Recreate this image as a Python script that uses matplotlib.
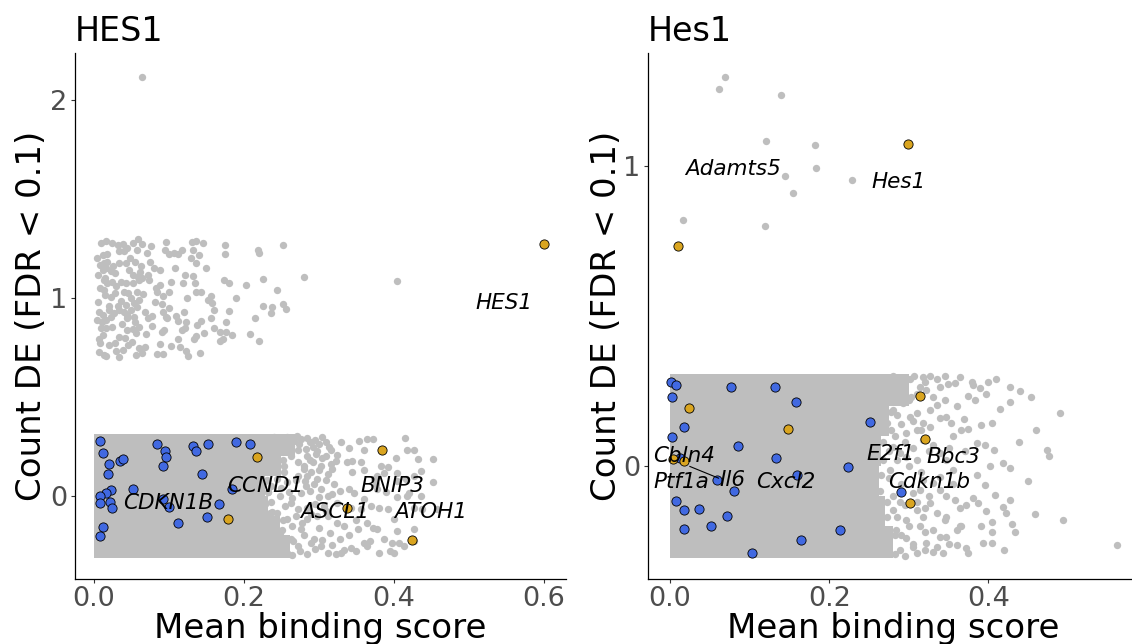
import matplotlib.pyplot as plt

# ---- colours ----
GRAY = '#BEBEBE'
BLUE = '#4169E1'
ORANGE = '#DAA520'

# ================= HES1 (left panel) =================
# dense block of genes with count 0 (jitter band): how far each slice of the band is solid
L_BAND_LO = [0.20, 0.10, 0.00, -0.10, -0.20, -0.315]
L_BAND_HI = [0.315, 0.20, 0.10, 0.00, -0.10, -0.20]
L_BAND_XMAX = [0.268, 0.25, 0.228, 0.232, 0.248, 0.262]

# individual grey genes (mean binding score, jittered DE count)
L_GRAY_X = [
    0.017, 0.024, 0.032, 0.039, 0.052, 0.059, 0.064, 0.097, 0.131, 0.136, 0.146, 0.175, 0.219, 0.253,
    0.012, 0.018, 0.034, 0.040, 0.058, 0.071, 0.095, 0.100, 0.107, 0.113, 0.118, 0.132, 0.140, 0.175, 0.220,
    0.009, 0.014, 0.018, 0.034, 0.043, 0.055, 0.063, 0.075, 0.137,
    0.006, 0.012, 0.017, 0.023, 0.028, 0.047, 0.052, 0.059, 0.065, 0.072, 0.088, 0.122, 0.133, 0.174, 0.180,
    0.226, 0.280, 0.404,
    0.014, 0.018, 0.025, 0.037, 0.043, 0.052, 0.061, 0.074, 0.083, 0.089, 0.103, 0.119, 0.135, 0.203, 0.245,
    0.014, 0.015, 0.023, 0.028, 0.040, 0.046, 0.058, 0.060, 0.036, 0.043, 0.054, 0.085, 0.100, 0.092, 0.137,
    0.143, 0.156, 0.152,
    0.007, 0.012, 0.021, 0.027, 0.034, 0.040, 0.045, 0.050, 0.058, 0.091, 0.092, 0.096, 0.120, 0.110, 0.158,
    0.160, 0.181, 0.226, 0.238, 0.252, 0.256, 0.237,
    0.005, 0.011, 0.017, 0.023, 0.045, 0.054, 0.072, 0.078, 0.098, 0.113, 0.123, 0.138, 0.143, 0.156, 0.176,
    0.215,
    0.016, 0.012, 0.007, 0.025, 0.034, 0.045, 0.052, 0.056, 0.060, 0.094, 0.091, 0.112, 0.118, 0.122, 0.136,
    0.147, 0.134, 0.168, 0.176, 0.184, 0.208, 0.172, 0.169, 0.220,
    0.009, 0.007, 0.014, 0.017, 0.028, 0.039, 0.034, 0.046, 0.051, 0.056, 0.060, 0.069, 0.085, 0.088, 0.092,
    0.103, 0.123, 0.126, 0.142,
    0.005, 0.008, 0.006, 0.010, 0.020, 0.026, 0.030, 0.032, 0.038, 0.042, 0.048, 0.050, 0.055, 0.062, 0.066,
    0.068, 0.070, 0.076, 0.080, 0.082, 0.078, 0.010, 0.020, 0.015, 0.030, 0.045, 0.065, 0.100, 0.108, 0.125,
    0.115, 0.130, 0.150, 0.160, 0.190,
    0.065,
    # count 0 fringe
    0.240, 0.249, 0.258, 0.267, 0.276, 0.263, 0.274, 0.283, 0.289, 0.314, 0.317, 0.325, 0.354, 0.365, 0.372,
    0.361, 0.418, 0.427, 0.432, 0.453, 0.403,
    0.285, 0.296, 0.305, 0.292, 0.303, 0.318, 0.323, 0.338, 0.345, 0.356, 0.383, 0.392, 0.387, 0.378, 0.374,
    0.405, 0.427, 0.416, 0.436,
    0.285, 0.298, 0.283, 0.294, 0.303, 0.320, 0.329, 0.340, 0.347, 0.378, 0.376, 0.405, 0.452, 0.420, 0.436,
    0.312, 0.318, 0.325, 0.307, 0.343, 0.360, 0.356, 0.380, 0.392, 0.405, 0.418, 0.427, 0.438, 0.458,
    0.285, 0.298, 0.312, 0.325, 0.334, 0.352, 0.365, 0.372, 0.378, 0.405, 0.427, 0.400, 0.407, 0.414, 0.387,
    0.294, 0.303, 0.312, 0.323, 0.334, 0.343, 0.360, 0.369, 0.365, 0.398, 0.400, 0.427, 0.329, 0.285,
    0.245, 0.254, 0.263, 0.272, 0.245, 0.258, 0.272, 0.249, 0.263, 0.276, 0.245, 0.258, 0.272, 0.249, 0.263,
    0.276, 0.245, 0.258, 0.272, 0.280, 0.278, 0.240, 0.254,
    0.227, 0.233, 0.229, 0.238, 0.236, 0.226,
    0.285, 0.295, 0.305, 0.300, 0.292, 0.310, 0.298, 0.288, 0.310, 0.316, 0.280, 0.290, 0.300, 0.312, 0.270,
    0.282, 0.310, 0.250, 0.260, 0.288, 0.265, 0.300, 0.255, 0.285, 0.295, 0.270, 0.290, 0.310, 0.265, 0.300,
    0.315, 0.280, 0.290, 0.305, 0.275, 0.295, 0.318, 0.330, 0.340, 0.350, 0.330, 0.340, 0.345, 0.360, 0.350,
    0.370, 0.390, 0.395, 0.380, 0.415,
    # genes sitting on the edge of the dense block
    0.272, 0.271, 0.254, 0.253, 0.232, 0.231, 0.236, 0.235, 0.252, 0.251, 0.266, 0.265,
]
L_GRAY_Y = [
    1.286, 1.277, 1.269, 1.274, 1.277, 1.298, 1.274, 1.281, 1.281, 1.286, 1.277, 1.269, 1.244, 1.267,
    1.218, 1.223, 1.235, 1.235, 1.244, 1.227, 1.244, 1.223, 1.227, 1.223, 1.244, 1.240, 1.217, 1.220, 1.227,
    1.168, 1.176, 1.184, 1.179, 1.179, 1.181, 1.159, 1.181, 1.179,
    1.117, 1.142, 1.151, 1.134, 1.125, 1.142, 1.117, 1.108, 1.100, 1.117, 1.139, 1.117, 1.112, 1.091, 1.074,
    1.098, 1.108, 1.088,
    1.091, 1.074, 1.083, 1.083, 1.074, 1.078, 1.091, 1.091, 1.049, 1.066, 1.083, 1.074, 1.074, 1.063, 1.041,
    1.041, 1.015, 1.007, 1.027, 1.032, 1.024, 1.032, 0.990, 0.986, 0.964, 0.973, 1.032, 1.032, 1.012, 1.032,
    1.030, 1.010, 0.990,
    0.931, 0.914, 0.939, 0.922, 0.939, 0.931, 0.914, 0.939, 0.956, 0.970, 0.931, 0.905, 0.931, 0.909, 0.973,
    0.939, 0.932, 0.961, 0.956, 0.970, 0.946, 0.922,
    0.888, 0.880, 0.888, 0.902, 0.897, 0.902, 0.897, 0.909, 0.900, 0.885, 0.880, 0.863, 0.885, 0.897, 0.880,
    0.898,
    0.846, 0.812, 0.795, 0.854, 0.804, 0.838, 0.841, 0.821, 0.854, 0.838, 0.829, 0.795, 0.838, 0.846, 0.807,
    0.821, 0.795, 0.829, 0.829, 0.812, 0.817, 0.795, 0.782, 0.782,
    0.770, 0.728, 0.711, 0.706, 0.770, 0.739, 0.702, 0.761, 0.778, 0.711, 0.745, 0.753, 0.719, 0.765, 0.716,
    0.756, 0.733, 0.706, 0.724,
    1.200, 1.050, 0.980, 0.850, 0.760, 1.160, 1.060, 0.960, 0.870, 0.800, 1.200, 1.000, 0.880, 1.130, 1.020,
    0.930, 0.820, 1.260, 1.150, 0.980, 0.860, 1.280, 0.960, 1.100, 0.730, 1.250, 0.720, 0.950, 1.150, 1.000,
    0.750, 1.200, 1.150, 0.850, 1.000,
    2.118,
    0.296, 0.288, 0.296, 0.279, 0.288, 0.254, 0.262, 0.237, 0.271, 0.245, 0.234, 0.207, 0.279, 0.288, 0.288,
    0.234, 0.234, 0.234, 0.186, 0.186, 0.189,
    0.203, 0.212, 0.190, 0.169, 0.152, 0.135, 0.178, 0.169, 0.178, 0.169, 0.152, 0.144, 0.118, 0.102, 0.085,
    0.118, 0.102, 0.085, 0.127,
    0.102, 0.085, 0.051, 0.059, 0.034, 0.059, 0.025, 0.037, 0.017, 0.034, 0.059, 0.076, 0.068, 0.017, 0.000,
    0.000, 0.008, -0.034, -0.051, -0.059, -0.017, -0.068, -0.059, -0.068, -0.008, 0.000, -0.059, -0.068, -0.068,
    -0.118, -0.102, -0.102, -0.135, -0.152, -0.169, -0.135, -0.161, -0.169, -0.178, -0.169, -0.118, -0.237,
    -0.254, -0.220,
    -0.220, -0.254, -0.288, -0.296, -0.271, -0.262, -0.237, -0.228, -0.254, -0.237, -0.288, -0.228, -0.220,
    -0.296,
    0.186, 0.152, 0.203, 0.169, 0.085, 0.068, 0.102, 0.000, -0.034, 0.017, -0.085, -0.118, -0.068, -0.186,
    -0.220, -0.169, -0.271, -0.288, -0.254, 0.135, -0.135, -0.135, 0.254,
    0.070, 0.020, -0.040, -0.080, 0.050, -0.090,
    0.290, 0.280, 0.295, 0.260, 0.245, 0.270, 0.225, 0.180, 0.200, 0.160, 0.150, 0.120, 0.130, 0.110, 0.080,
    0.075, 0.080, 0.040, 0.020, 0.025, -0.010, -0.005, -0.050, -0.060, -0.040, -0.100, -0.090, -0.075, -0.150,
    -0.160, -0.190, -0.200, -0.240, -0.225, -0.280, -0.270, -0.250, -0.290, -0.200, -0.280, 0.270, 0.240,
    0.120, 0.130, -0.120, -0.050, 0.020, -0.280, -0.290, 0.290,
    0.230, 0.300, 0.120, 0.180, 0.020, 0.080, -0.030, -0.085, -0.120, -0.170, -0.230, -0.300,
]

# downregulated (blue) and upregulated (orange) target genes
L_DOWN_X = [0.008, 0.012, 0.020, 0.019, 0.035, 0.039, 0.023, 0.017, 0.008, 0.009, 0.022, 0.024, 0.012,
            0.008, 0.052, 0.084, 0.095, 0.097, 0.092, 0.132, 0.136, 0.152, 0.144, 0.093, 0.100, 0.112,
            0.151, 0.167, 0.184, 0.190, 0.209]
L_DOWN_Y = [0.279, 0.217, 0.159, 0.110, 0.176, 0.186, 0.032, 0.017, 0.000, -0.036, -0.030, -0.059, -0.157,
            -0.202, 0.034, 0.260, 0.225, 0.196, 0.149, 0.250, 0.225, 0.262, 0.112, -0.017, -0.054, -0.139,
            -0.108, -0.042, 0.034, 0.273, 0.264]
L_UP_X = [0.218, 0.179, 0.385, 0.338, 0.425, 0.601]
L_UP_Y = [0.194, -0.115, 0.232, -0.061, -0.225, 1.273]

L_LABELS = ['HES1', 'CDKN1B', 'CCND1', 'BNIP3', 'ASCL1', 'ATOH1']
L_LABEL_X = [0.547, 0.099, 0.229, 0.399, 0.322, 0.450]
L_LABEL_Y = [0.943, -0.067, 0.022, 0.022, -0.110, -0.110]

# ================= Hes1 (right panel) =================
R_BAND_LO = [0.20, 0.10, 0.00, -0.10, -0.20, -0.307]
R_BAND_HI = [0.307, 0.20, 0.10, 0.00, -0.10, -0.20]
R_BAND_XMAX = [0.30, 0.275, 0.265, 0.262, 0.27, 0.28]

R_GRAY_X = [
    # count 1 genes
    0.069, 0.062, 0.140, 0.121, 0.182, 0.184, 0.145, 0.155, 0.229, 0.016, 0.119,
    # count 0 fringe
    0.349, 0.358, 0.364, 0.379, 0.389, 0.399, 0.397, 0.383, 0.374, 0.427, 0.427, 0.454, 0.490,
    0.347, 0.353, 0.369, 0.365, 0.374, 0.391, 0.404, 0.438, 0.407, 0.396, 0.385, 0.402, 0.418, 0.427,
    0.473, 0.476, 0.395, 0.408, 0.385, 0.381, 0.387, 0.358, 0.372, 0.364, 0.397, 0.418, 0.427, 0.422,
    0.458, 0.493, 0.404, 0.404, 0.429, 0.433, 0.393, 0.404, 0.372, 0.374, 0.360, 0.347, 0.561,
    0.280, 0.289, 0.297, 0.307, 0.318, 0.326, 0.314, 0.322, 0.330, 0.335, 0.339, 0.326, 0.310, 0.301,
    0.339, 0.318, 0.326, 0.310, 0.297, 0.318, 0.330, 0.339, 0.347, 0.355, 0.310, 0.297, 0.289, 0.339,
    0.330, 0.318, 0.314, 0.339, 0.347, 0.326, 0.310, 0.318, 0.335, 0.347, 0.297, 0.314, 0.330, 0.339,
    0.364, 0.360, 0.322, 0.305, 0.289, 0.310, 0.330, 0.343, 0.297, 0.284, 0.280, 0.289, 0.276, 0.280,
    0.272, 0.280, 0.293, 0.287,
    0.285, 0.290, 0.305, 0.315, 0.282, 0.295, 0.305, 0.325, 0.275, 0.285, 0.300, 0.315, 0.275, 0.290,
    0.305, 0.325, 0.280, 0.295, 0.310, 0.320, 0.285, 0.300, 0.320, 0.290, 0.305, 0.320, 0.335, 0.295,
    0.350, 0.345, 0.355, 0.350, 0.360, 0.345, 0.310, 0.320, 0.335, 0.345, 0.300, 0.355, 0.365, 0.370,
    0.380, 0.410, 0.440, 0.420, 0.450, 0.460, 0.390, 0.415,
    # genes sitting on the edge of the dense block
    0.303, 0.302, 0.278, 0.277, 0.268, 0.267, 0.265, 0.264, 0.273, 0.272, 0.283, 0.282,
]
R_GRAY_Y = [
    1.296, 1.256, 1.237, 1.081, 1.070, 0.991, 0.966, 0.909, 0.951, 0.820, 0.800,
    0.273, 0.276, 0.296, 0.281, 0.259, 0.281, 0.240, 0.218, 0.233, 0.264, 0.214, 0.231, 0.176,
    0.164, 0.142, 0.156, 0.118, 0.122, 0.137, 0.142, 0.081, 0.053, 0.070, 0.076, -0.002, 0.009, -0.008,
    0.053, 0.033, -0.063, -0.097, -0.030, -0.108, -0.124, -0.113, -0.130, -0.141, -0.152, -0.136, -0.113,
    -0.158, -0.160, -0.180, -0.186, -0.219, -0.193, -0.219, -0.256, -0.256, -0.274, -0.291, -0.263, -0.236,
    -0.264,
    0.298, 0.292, 0.287, 0.298, 0.296, 0.298, 0.264, 0.253, 0.231, 0.203, 0.264, 0.187, 0.175, 0.164,
    0.159, 0.142, 0.131, 0.120, 0.109, 0.087, 0.070, 0.042, 0.020, -0.013, 0.020, 0.031, 0.042, -0.036,
    -0.058, -0.047, -0.080, -0.080, -0.102, -0.124, -0.147, -0.169, -0.158, -0.169, -0.180, -0.202, -0.213,
    -0.236, -0.202, -0.213, -0.258, -0.269, -0.280, -0.291, -0.286, -0.291, -0.241, -0.213, -0.147, -0.119,
    -0.013, 0.064, 0.142, 0.187, 0.209, 0.242,
    0.170, 0.140, 0.150, 0.120, 0.100, 0.080, 0.060, 0.050, 0.050, 0.020, 0.000, -0.020, -0.040, -0.060,
    -0.090, -0.100, -0.100, -0.130, -0.120, -0.140, -0.170, -0.200, -0.220, -0.230, -0.260, -0.280, -0.270,
    -0.300, -0.260, -0.180, -0.060, 0.060, 0.200, 0.220, 0.240, 0.280, 0.290, 0.300, 0.220, 0.100, -0.200,
    0.050, 0.270, 0.290, 0.250, -0.280, -0.050, 0.120, -0.200, 0.190,
    0.230, 0.290, 0.120, 0.180, 0.020, 0.080, -0.030, -0.085, -0.120, -0.170, -0.230, -0.295,
]

R_DOWN_X = [0.001, 0.007, 0.003, 0.077, 0.132, 0.158, 0.018, 0.003, 0.085, 0.133, 0.223, 0.013, 0.059,
            0.159, 0.080, 0.008, 0.018, 0.036, 0.072, 0.018, 0.051, 0.103, 0.165, 0.214, 0.251, 0.290]
R_DOWN_Y = [0.279, 0.268, 0.230, 0.264, 0.263, 0.212, 0.130, 0.097, 0.067, 0.026, -0.003, 0.026, -0.046,
            -0.030, -0.083, -0.117, -0.146, -0.144, -0.167, -0.210, -0.199, -0.289, -0.246, -0.214, 0.146,
            -0.086]
R_UP_X = [0.024, 0.148, 0.004, 0.017, 0.314, 0.320, 0.302, 0.299, 0.010]
R_UP_Y = [0.193, 0.123, 0.022, 0.017, 0.233, 0.089, -0.124, 1.072, 0.733]

R_LABELS = ['Adamts5', 'Hes1', 'Cbln4', 'Ptf1a', 'Il6', 'Cxcl2', 'E2f1', 'Bbc3', 'Cdkn1b']
R_LABEL_X = [0.079, 0.287, 0.018, 0.014, 0.079, 0.145, 0.277, 0.356, 0.326]
R_LABEL_Y = [0.969, 0.925, 0.014, -0.074, -0.067, -0.074, 0.018, 0.009, -0.074]
# repel segment (label -> point)
R_SEG_X = [0.025, 0.061]
R_SEG_Y = [-0.002, -0.041]


def draw_panel(ax, title, band_lo, band_hi, band_xmax, gx, gy, dx, dy, ux, uy,
               labels, lx, ly, xticks, yticks, xlim, ylim):
    centers = [(lo + hi) / 2 for lo, hi in zip(band_lo, band_hi)]
    heights = [hi - lo for lo, hi in zip(band_lo, band_hi)]
    ax.barh(centers, band_xmax, height=heights, left=0, color=GRAY, linewidth=0, zorder=1)
    ax.scatter(gx, gy, s=28, color=GRAY, linewidths=0, zorder=2)
    ax.scatter(dx, dy, s=44, color=BLUE, edgecolors='black', linewidths=0.6, zorder=3)
    ax.scatter(ux, uy, s=44, color=ORANGE, edgecolors='black', linewidths=0.6, zorder=3)
    for name, x, y in zip(labels, lx, ly):
        ax.text(x, y, name, fontsize=15.5, fontstyle='italic', ha='center', va='baseline',
                color='black', zorder=5)

    ax.set_xlim(*xlim)
    ax.set_ylim(*ylim)
    ax.set_xticks(xticks)
    ax.set_xticklabels([f'{t:.1f}' for t in xticks])
    ax.set_yticks(yticks)
    ax.set_yticklabels([str(t) for t in yticks])
    for side in ['top', 'right']:
        ax.spines[side].set_visible(False)
    for side in ['left', 'bottom']:
        ax.spines[side].set_linewidth(0.9)
        ax.spines[side].set_color('black')
    ax.tick_params(labelsize=19.5, labelcolor='#4D4D4D', length=2.75, width=0.8,
                   color='#333333', pad=2.5)

    ax.set_title(title, loc='left', fontsize=24, pad=9.2)
    ax.set_xlabel('Mean binding score', fontsize=24.5, va='baseline')
    ax.xaxis.set_label_coords(0.5, -0.112)
    ax.set_ylabel('Count DE (FDR < 0.1)', fontsize=24.5, va='center')


fig = plt.figure(figsize=(11.32, 6.44), dpi=100)
W, H = 1132, 644
ax1 = fig.add_axes([75 / W, 1 - 579 / H, (566 - 75) / W, (579 - 53.5) / H])
ax2 = fig.add_axes([648 / W, 1 - 579 / H, (1139 - 648) / W, (579 - 53.5) / H])

draw_panel(ax1, 'HES1', L_BAND_LO, L_BAND_HI, L_BAND_XMAX, L_GRAY_X, L_GRAY_Y,
           L_DOWN_X, L_DOWN_Y, L_UP_X, L_UP_Y, L_LABELS, L_LABEL_X, L_LABEL_Y,
           [0.0, 0.2, 0.4, 0.6], [0, 1, 2], (-0.0247, 0.63), (-0.42, 2.235))
ax1.yaxis.set_label_coords(-0.0896, 0.5)

draw_panel(ax2, 'Hes1', R_BAND_LO, R_BAND_HI, R_BAND_XMAX, R_GRAY_X, R_GRAY_Y,
           R_DOWN_X, R_DOWN_Y, R_UP_X, R_UP_Y, R_LABELS, R_LABEL_X, R_LABEL_Y,
           [0.0, 0.2, 0.4], [0, 1], (-0.0276, 0.589), (-0.377, 1.374))
ax2.plot(R_SEG_X, R_SEG_Y, color='black', linewidth=0.8, zorder=4)
ax2.yaxis.set_label_coords(-0.0855, 0.5)

fig.savefig('out.png', dpi=100)
